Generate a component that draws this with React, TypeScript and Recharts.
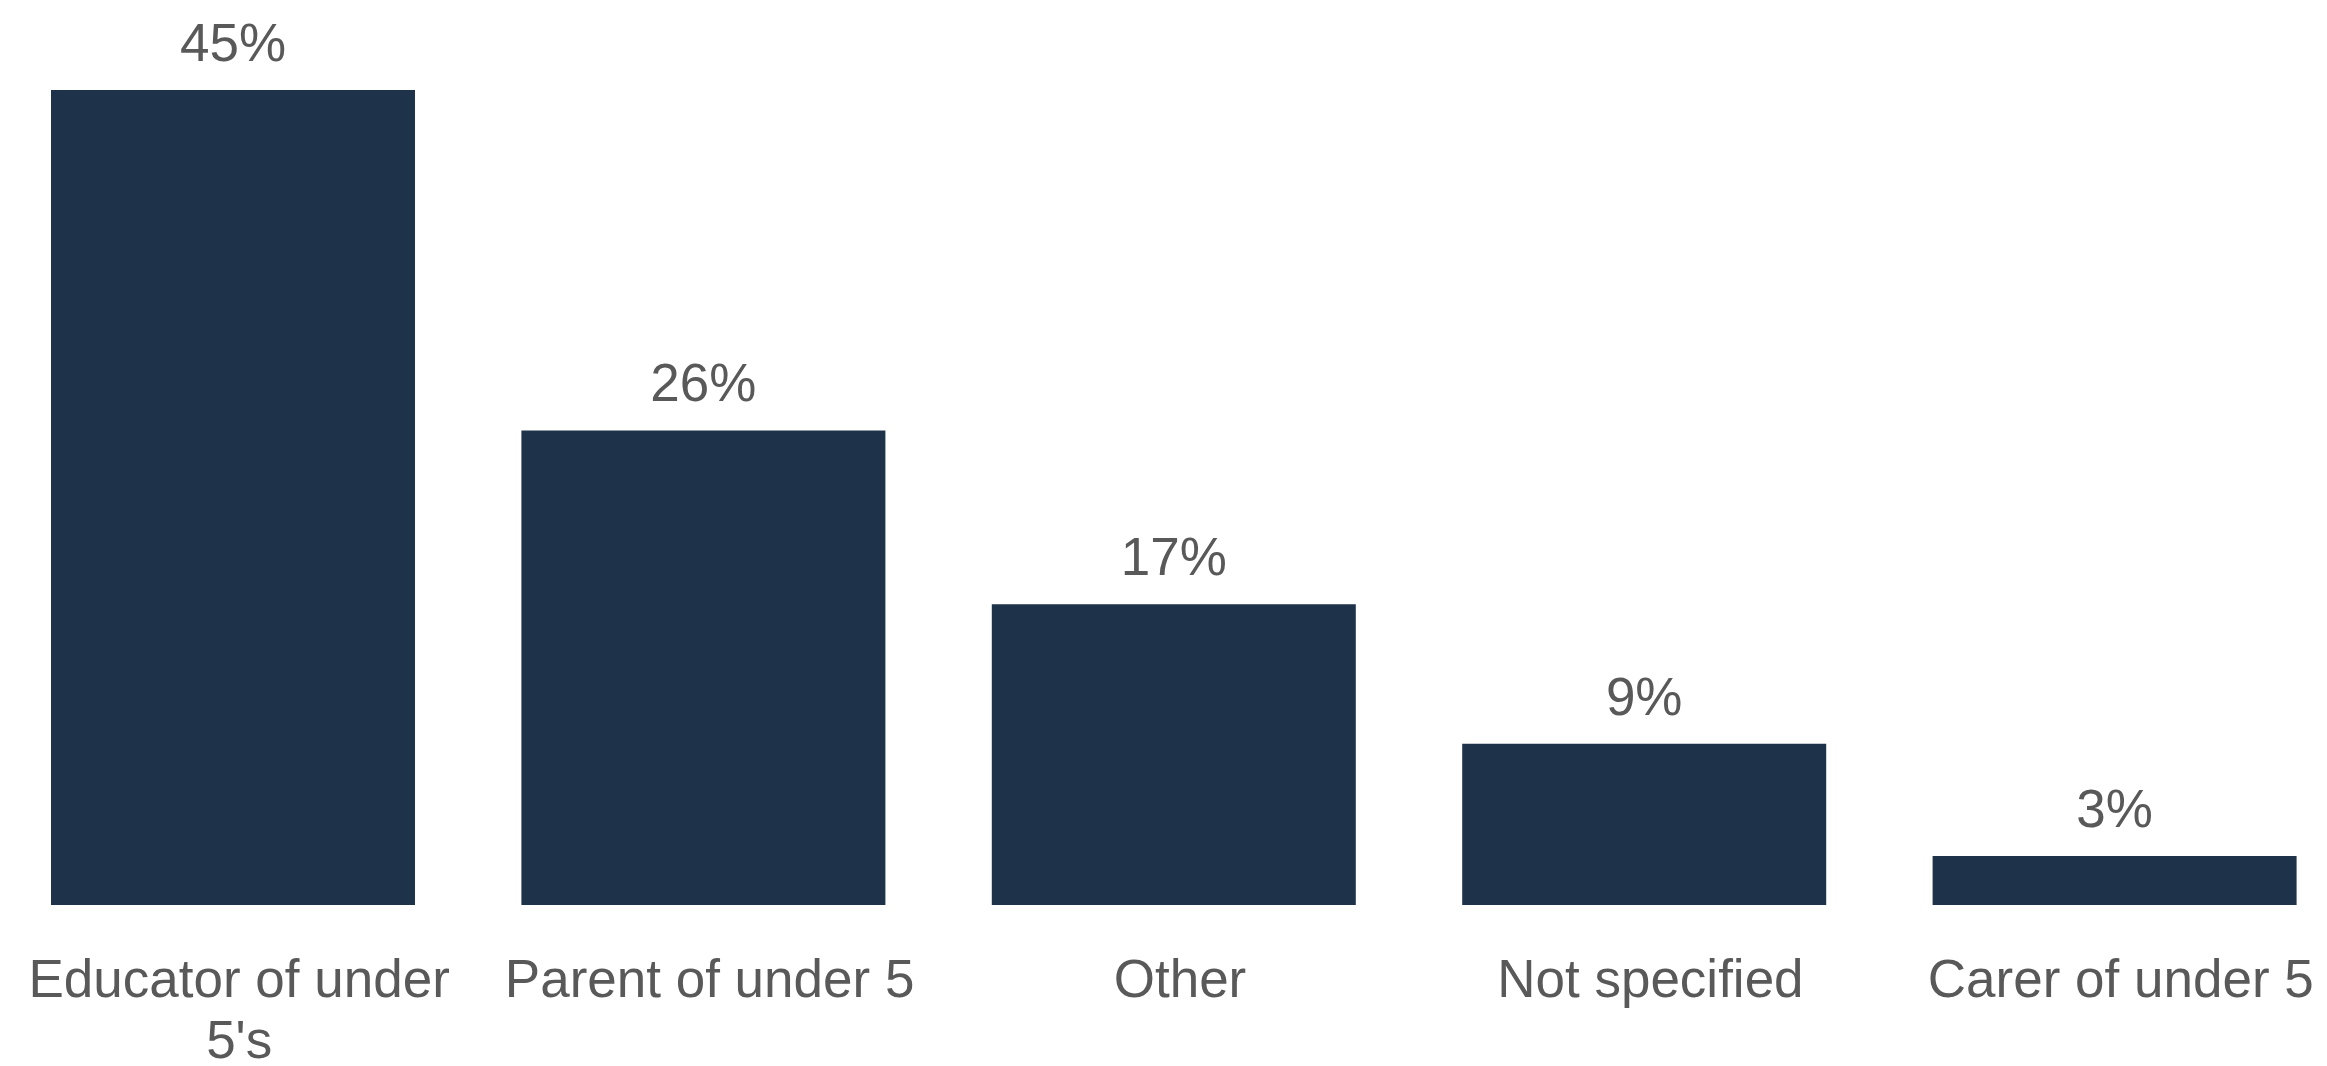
import { Bar, BarChart, LabelList, XAxis, YAxis } from "recharts";

const categories = [
  "Educator of under 5's",
  "Parent of under 5",
  "Other",
  "Not specified",
  "Carer of under 5",
];
const shares = [45.0, 26.2, 16.6, 8.9, 2.7];

const data = categories.map((name, i) => ({ name, share: shares[i] }));

const FONT = "'Liberation Sans', Arial, Helvetica, sans-serif";
const GREY = "#595959";
const NAVY = "#1e3249";
const TICK_SIZE = 53;
const TICK_WIDTH = 450;

let ctx: CanvasRenderingContext2D | null = null;
function measure(s: string) {
  if (!ctx) {
    ctx = document.createElement("canvas").getContext("2d");
    if (ctx) ctx.font = `${TICK_SIZE}px ${FONT}`;
  }
  return ctx ? ctx.measureText(s).width : s.length * TICK_SIZE * 0.5;
}

// greedy word wrap so long category names break like in the source chart
function wrap(label: string) {
  const lines: string[] = [];
  let cur = "";
  for (const w of label.split(" ")) {
    const next = cur ? `${cur} ${w}` : w;
    if (cur && measure(next) > TICK_WIDTH) {
      lines.push(cur);
      cur = w;
    } else {
      cur = next;
    }
  }
  if (cur) lines.push(cur);
  return lines;
}

function CategoryTick(props: any) {
  const { x, y, payload } = props;
  const lines = wrap(String(payload.value));
  return (
    <text x={x + 6} y={y + 92} textAnchor="middle" fontSize={TICK_SIZE} fontFamily={FONT} fill={GREY}>
      {lines.map((l, i) => (
        <tspan key={i} x={x + 6} dy={i === 0 ? 0 : 61}>
          {l}
        </tspan>
      ))}
    </text>
  );
}

export default function App() {
  return (
    <div style={{ position: "absolute", left: 0, top: 0, width: 2327, height: 1066, overflow: "hidden", background: "#fff" }}>
      <div style={{ marginLeft: -2 }}>
        <BarChart
          width={2352}
          height={1066}
          data={data}
          margin={{ top: 90, right: 0, left: 0, bottom: 0 }}
          barSize={364}
        >
          <XAxis
            dataKey="name"
            axisLine={false}
            tickLine={false}
            tickSize={0}
            tickMargin={0}
            height={161}
            interval={0}
            tick={<CategoryTick />}
          />
          <YAxis hide domain={[0, 45]} />
          <Bar dataKey="share" fill={NAVY} isAnimationActive={false}>
            <LabelList
              dataKey="share"
              position="top"
              offset={29}
              formatter={(v: any) => `${Math.round(Number(v))}%`}
              style={{ fontSize: 53, fontFamily: FONT, fill: GREY }}
            />
          </Bar>
        </BarChart>
      </div>
    </div>
  );
}
